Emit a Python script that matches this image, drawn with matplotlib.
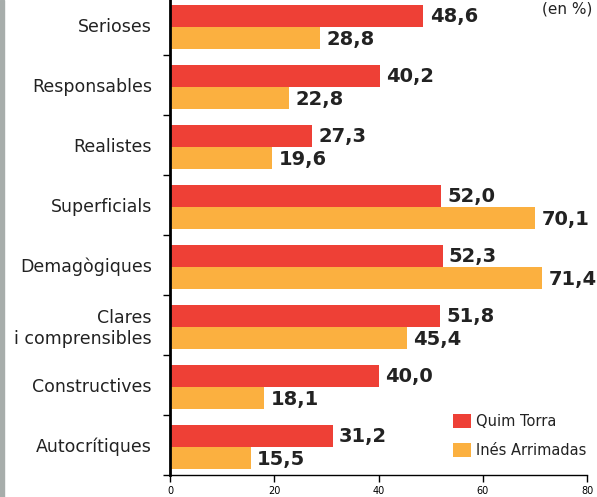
import matplotlib
matplotlib.use("Agg")
import matplotlib.pyplot as plt
import numpy as np
from matplotlib.patches import Rectangle

categories = ["Serioses", "Responsables", "Realistes", "Superficials", "Demagògiques",
              "Clares\ni comprensibles", "Constructives", "Autocrítiques"]
torra = [48.6, 40.2, 27.3, 52.0, 52.3, 51.8, 40.0, 31.2]
arrimadas = [28.8, 22.8, 19.6, 70.1, 71.4, 45.4, 18.1, 15.5]
series_names = ["Quim Torra", "Inés Arrimadas"]
xticks = [0, 20, 40, 60, 80]

red = "#ee4036"
orange = "#fbb040"

fig = plt.figure(figsize=(5.97, 4.97), dpi=100)
fig.patches.append(Rectangle((0, 0), 4/597, 1, transform=fig.transFigure,
                             color="#a7adab", zorder=0))
ax = fig.add_axes([170/597, 22/497, 417/597, 480/497])

n = len(categories)
y = np.arange(n)
h = 0.367
off = 0.035
ax.barh(y - h/2 + off, torra, height=h, color=red, label=series_names[0])
ax.barh(y + h/2 + off, arrimadas, height=h, color=orange, label=series_names[1])

def fmt(v):
    return f"{v:.1f}".replace(".", ",")

for i in range(n):
    ax.text(torra[i] + 1.2, y[i] - h/2 + off, fmt(torra[i]), va="center", ha="left",
            fontsize=14, fontweight="bold", color="#222222")
    ax.text(arrimadas[i] + 1.2, y[i] + h/2 + off + 0.02, fmt(arrimadas[i]), va="center", ha="left",
            fontsize=14, fontweight="bold", color="#222222")

ax.set_ylim(n - 0.5, -0.5)
ax.set_xlim(0, 80)
ax.set_yticks(y)
ax.set_yticklabels(categories, fontsize=12.5, color="#222222", multialignment="right")
ax.set_yticks(np.arange(n + 1) - 0.5, minor=True)
ax.tick_params(axis="y", which="major", length=0, pad=13)
ax.tick_params(axis="y", which="minor", length=5, width=1, direction="out")
ax.set_xticks(xticks)
ax.tick_params(axis="x", length=5, width=1, labelsize=7, pad=3)
for s in ["top", "right"]:
    ax.spines[s].set_visible(False)
ax.spines["left"].set_linewidth(2)
ax.spines["bottom"].set_linewidth(1)

leg = ax.legend(loc="lower right", bbox_to_anchor=(1.012, 0.023), frameon=False,
                fontsize=10.5, handlelength=1.23, handleheight=1.1, handletextpad=0.35,
                labelspacing=0.95, borderaxespad=0)
for t in leg.get_texts():
    t.set_color("#222222")
    t.set_fontweight("medium")

fig.text(0.993, 0.997, "(en %)", ha="right", va="top", fontsize=11, color="#222222")

fig.savefig("out.png", dpi=100)
